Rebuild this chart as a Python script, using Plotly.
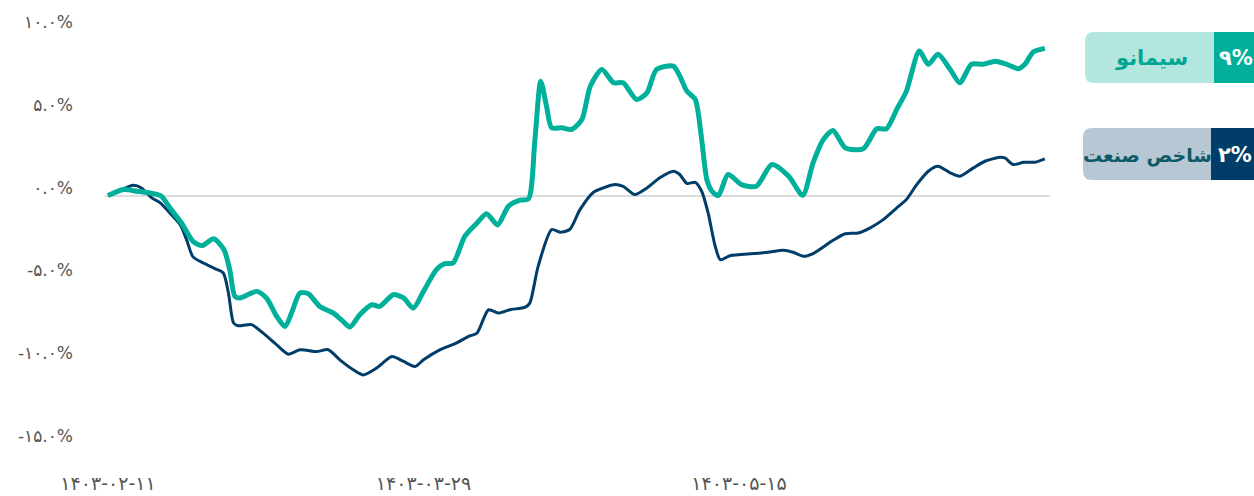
import plotly.graph_objects as go

# ---------------- data ----------------
# x is measured in trading-day units from the first date (1403-02-11)
simano_x = [0, 2.4, 4.5, 7.0, 8.3, 9.6, 11.4, 13.2, 14.6, 16.4, 18.0, 18.9, 19.7, 20.5,
            23.1, 24.6, 26.2, 27.5, 28.5, 29.8, 31.1, 32.9, 35.0, 36.5, 37.6, 39.1,
            41.0, 42.2, 44.3, 45.9, 47.4, 49.0, 51.0, 52.3, 53.6, 55.4, 57.3, 58.8,
            60.5, 62.2, 64.0, 65.3, 66.3, 67.2, 68.1, 68.9, 70.5, 72.0, 73.6, 74.9,
            76.7, 78.5, 80.0, 82.1, 83.7, 85.2, 87.8, 88.8, 89.9, 91.2, 92.2, 93.0,
            93.8, 94.8, 96.3, 98.4, 100.7, 103.1, 105.7, 107.9, 109.5, 111.1, 112.6,
            114.5, 117.3, 119.4, 120.9, 122.5, 124.0, 126.0, 127.4, 128.9, 130.8,
            132.3, 134.1, 135.9, 137.8, 139.6, 141.4, 142.4, 143.7, 145.5]
simano_y = [0, 0.36, 0.26, 0.12, -0.04, -0.74, -1.65, -2.76, -3.02, -2.6, -3.26, -4.47,
            -6.08, -6.18, -5.78, -6.18, -7.29, -7.9, -7.09, -5.88, -5.92, -6.69, -7.09,
            -7.59, -7.93, -7.19, -6.59, -6.69, -5.98, -6.18, -6.79, -5.78, -4.47, -4.11,
            -4.07, -2.46, -1.65, -1.09, -1.77, -0.64, -0.28, -0.2, 3.38, 6.9, 5.4, 4.09,
            4.09, 3.99, 4.59, 6.6, 7.61, 6.81, 6.81, 5.8, 6.2, 7.61, 7.81, 7.21, 6.3,
            5.8, 3.38, 0.97, 0.26, 0.0, 1.27, 0.66, 0.56, 1.87, 1.17, 0.02, 1.97, 3.38,
            3.93, 2.88, 2.82, 4.03, 4.03, 5.2, 6.3, 8.72, 7.92, 8.52, 7.61, 6.81, 7.92,
            7.92, 8.11, 7.92, 7.65, 7.92, 8.66, 8.88]

index_x = [0, 1.9, 3.9, 5.2, 6.8, 8.1, 9.6, 11.2, 12.2, 13.2, 14.8, 16.6, 17.9, 18.7,
           19.5, 20.2, 22.3, 24.1, 25.9, 28.0, 29.8, 32.4, 34.2, 36.0, 38.1, 39.6,
           41.7, 44.1, 45.9, 47.7, 49.0, 51.6, 53.9, 56.0, 57.3, 59.1, 60.6, 62.4,
           64.8, 65.5, 66.8, 68.9, 70.2, 71.7, 73.3, 75.4, 76.9, 78.5, 80.0, 81.8,
           83.7, 85.7, 87.8, 88.8, 89.9, 91.2, 92.2, 93.2, 94.3, 95.1, 96.6, 100.2,
           102.5, 104.9, 106.4, 108.0, 109.5, 112.6, 114.5, 116.5, 118.3, 120.4,
           122.5, 124.0, 125.6, 127.4, 128.9, 130.8, 132.3, 134.4, 136.2, 138.5,
           139.3, 140.6, 142.2, 144.0, 145.5]
index_y = [0, 0.32, 0.62, 0.46, -0.14, -0.44, -1.05, -1.75, -2.66, -3.7, -4.07, -4.41,
           -4.67, -5.88, -7.69, -7.85, -7.79, -8.3, -8.9, -9.57, -9.3, -9.41, -9.3,
           -9.91, -10.51, -10.82, -10.41, -9.71, -10.01, -10.31, -9.91, -9.3, -8.94,
           -8.5, -8.3, -6.89, -7.09, -6.89, -6.73, -6.49, -4.27, -2.05, -2.21, -2.05,
           -0.85, 0.2, 0.46, 0.66, 0.56, 0.06, 0.46, 1.07, 1.47, 1.27, 0.73, 0.8, 0.26,
           -1.05, -3.06, -3.87, -3.63, -3.5, -3.42, -3.3, -3.42, -3.66, -3.5, -2.7,
           -2.3, -2.26, -1.96, -1.45, -0.74, -0.24, 0.66, 1.47, 1.77, 1.37, 1.17, 1.67,
           2.07, 2.31, 2.27, 1.87, 2.01, 2.01, 2.21]

x_tick_vals = [0, 49, 98]
x_tick_text = ["۱۴۰۳-۰۲-۱۱", "۱۴۰۳-۰۳-۲۹", "۱۴۰۳-۰۵-۱۵"]
y_tick_vals = [-15, -10, -5, 0, 5, 10]
y_tick_text = ["-۱۵.۰%", "-۱۰.۰%", "-۵.۰%", "۰.۰%", "۵.۰%", "۱۰.۰%"]

series_names = ["سیمانو", "شاخص صنعت"]
series_last = ["۹%", "۲%"]

# ---------------- styling ----------------
TEAL = "#00b09b"
NAVY = "#003d69"
W, H = 1254, 496
L, R, T, B = 105, 204, 29, 51
PW, PH = W - L - R, H - T - B

def px(xp):
    return (xp - L) / PW

def py(yp):
    return (H - B - yp) / PH

fig = go.Figure()
fig.add_trace(go.Scatter(x=index_x, y=index_y, mode="lines", name=series_names[1],
                         line=dict(color=NAVY, width=3, shape="spline", smoothing=0.7),
                         hoverinfo="skip"))
fig.add_trace(go.Scatter(x=simano_x, y=simano_y, mode="lines", name=series_names[0],
                         line=dict(color=TEAL, width=5, shape="spline", smoothing=0.7),
                         hoverinfo="skip"))

def rounded_left_box(x0, y0, x1, y1, r, color):
    # pixel coords -> paper path
    p = (f"M {px(x0 + r)} {py(y0)} L {px(x1)} {py(y0)} L {px(x1)} {py(y1)} "
         f"L {px(x0 + r)} {py(y1)} Q {px(x0)} {py(y1)} {px(x0)} {py(y1 - r)} "
         f"L {px(x0)} {py(y0 + r)} Q {px(x0)} {py(y0)} {px(x0 + r)} {py(y0)} Z")
    return dict(type="path", path=p, xref="paper", yref="paper",
                fillcolor=color, line=dict(width=0), layer="above")

shapes = [
    rounded_left_box(1085, 32, 1214, 83, 9, "#b3e6df"),
    dict(type="rect", xref="paper", yref="paper", x0=px(1214), x1=px(1262),
         y0=py(83), y1=py(32), fillcolor=TEAL, line=dict(width=0)),
    rounded_left_box(1083, 128, 1211, 180, 9, "#b7c7d3"),
    dict(type="rect", xref="paper", yref="paper", x0=px(1211), x1=px(1262),
         y0=py(180), y1=py(128), fillcolor=NAVY, line=dict(width=0)),
]

FONT = "DejaVu Sans"

def label(xp, yp, text, color, size):
    return dict(x=px(xp), y=py(yp), xref="paper", yref="paper", text="<b>" + text + "</b>",
                xanchor="center", yanchor="middle", showarrow=False,
                font=dict(family=FONT, size=size, color=color))

annotations = [
    label(1151, 58, series_names[0], "#00a692", 21),
    label(1236, 58, series_last[0], "white", 21),
    label(1147, 155, series_names[1], "#0c5a68", 19),
    label(1235, 155, series_last[1], "white", 21),
]

fig.update_layout(
    template="none",
    width=W, height=H,
    margin=dict(l=L, r=R, t=T, b=B, pad=0, autoexpand=False),
    paper_bgcolor="white", plot_bgcolor="white",
    showlegend=False,
    shapes=shapes, annotations=annotations,
    xaxis=dict(range=[-0.47, 146.3], showgrid=False, zeroline=False, showline=False,
               automargin=False,
               tickmode="array", tickvals=x_tick_vals, ticktext=x_tick_text,
               ticks="", ticklabelstandoff=25,
               tickfont=dict(family=FONT, size=19, color="#555555"), fixedrange=True),
    yaxis=dict(range=[-15.05, 10.05], showgrid=False, zeroline=True,
               automargin=False,
               zerolinecolor="#dcdcdc", zerolinewidth=2, showline=False,
               tickmode="array", tickvals=y_tick_vals, ticktext=y_tick_text,
               ticks="", ticklabelstandoff=31, ticklabelshift=-8,
               tickfont=dict(family=FONT, size=17, color="#555555"), fixedrange=True),
)

page_css = ("document.documentElement.style.margin='0';"
            "document.body.style.margin='0';"
            "document.body.style.overflow='hidden';"
            "document.documentElement.style.overflow='hidden';")
fig.write_html("out.html", post_script=page_css, config={"displayModeBar": False})
